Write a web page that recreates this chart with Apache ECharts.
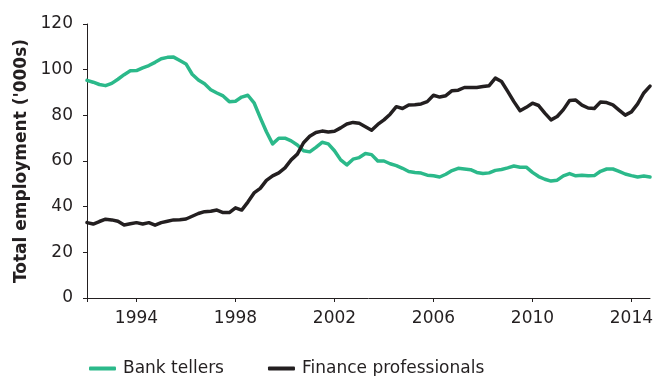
<!DOCTYPE html>
<html>
<head>
<meta charset="utf-8">
<script src="https://cdn.jsdelivr.net/npm/echarts@6/dist/echarts.min.js"></script>
<style>
  html, body { margin: 0; padding: 0; background: #ffffff; }
  #chart { width: 658px; height: 376px; }
</style>
</head>
<body>
<div id="chart"></div>
<script>
// Quarterly observations, 1992 Q1 to 2014 Q4 (thousands of workers)
const startYear = 1992;
const endYear = 2014;
const quarters = [];
for (let y = startYear; y <= endYear; y++) {
  for (let q = 1; q <= 4; q++) quarters.push(y + ' Q' + q);
}

const bankTellers = [
  95.3, 94.5, 93.5, 93.0, 94.0, 95.8, 97.8, 99.5,
  99.6, 100.8, 101.8, 103.2, 104.8, 105.4, 105.5, 104.0,
  102.5, 98.0, 95.5, 93.8, 91.2, 89.8, 88.5, 86.0,
  86.2, 88.0, 88.8, 85.5, 79.0, 72.8, 67.5, 70.0,
  70.0, 68.8, 67.0, 64.5, 64.0, 66.0, 68.2, 67.5,
  64.5, 60.5, 58.3, 60.8, 61.5, 63.3, 62.8, 60.0,
  60.0, 58.8, 58.0, 56.8, 55.4, 55.0, 54.7, 53.8,
  53.5, 53.0, 54.2, 55.8, 56.8, 56.5, 56.2, 55.0,
  54.5, 54.8, 55.9, 56.3, 57.0, 57.8, 57.3, 57.3,
  55.0, 53.2, 52.0, 51.2, 51.6, 53.5, 54.5, 53.5,
  53.8, 53.5, 53.6, 55.5, 56.5, 56.5, 55.5, 54.3,
  53.6, 53.0, 53.4, 53.0
];

const financeProfessionals = [
  33.0, 32.4, 33.5, 34.5, 34.2, 33.6, 32.0, 32.5,
  33.0, 32.4, 33.0, 31.9, 33.0, 33.6, 34.2, 34.3,
  34.6, 35.8, 37.0, 37.8, 38.0, 38.5, 37.4, 37.4,
  39.5, 38.5, 42.0, 46.0, 48.0, 51.5, 53.5, 54.8,
  57.0, 60.5, 63.0, 68.0, 70.8, 72.5, 73.1, 72.7,
  73.0, 74.5, 76.2, 76.9, 76.5, 75.0, 73.5, 76.0,
  78.0, 80.5, 83.8, 83.0, 84.5, 84.6, 85.0, 86.0,
  88.8, 88.0, 88.6, 90.8, 91.0, 92.2, 92.2, 92.2,
  92.6, 93.0, 96.3, 94.8, 90.5, 86.0, 82.0, 83.5,
  85.3, 84.3, 81.0, 78.0, 79.5, 82.5, 86.5, 86.7,
  84.5, 83.2, 83.0, 85.8, 85.6, 84.6, 82.3, 80.1,
  81.5, 85.0, 89.8, 92.8
];

// Years that carry a label on the horizontal axis
const labelledYears = [1994, 1998, 2002, 2006, 2010, 2014];
const yTicks = [0, 20, 40, 60, 80, 100, 120];

const seriesNames = ['Bank tellers', 'Finance professionals'];
const seriesColors = ['#2bb98a', '#231f20'];

const ink = '#231f20';
const font = 'DejaVu Sans';

function isLabelledQuarter(idx) {
  const label = quarters[idx];
  const year = parseInt(label.slice(0, 4), 10);
  return label.endsWith('Q1') && labelledYears.indexOf(year) !== -1;
}

const chart = echarts.init(document.getElementById('chart'), null, { renderer: 'canvas' });

chart.setOption({
  animation: false,
  backgroundColor: '#ffffff',
  grid: { left: 87, right: 8, top: 24, bottom: 78, containLabel: false },
  legend: {
    data: seriesNames.map((n, i) => ({ name: n, itemStyle: { color: seriesColors[i] } })),
    left: 84,
    top: 355,
    icon: 'roundRect',
    itemWidth: 27,
    itemHeight: 4,
    itemGap: 44,
    textStyle: { fontFamily: font, fontSize: 17, color: ink, padding: [0, 0, 0, 2] }
  },
  xAxis: {
    type: 'category',
    data: quarters,
    boundaryGap: false,
    axisLine: { lineStyle: { color: ink, width: 1 } },
    axisTick: {
      show: true,
      length: 4,
      interval: (idx) => idx === 0 || isLabelledQuarter(idx),
      lineStyle: { color: ink }
    },
    axisLabel: {
      interval: (idx) => isLabelledQuarter(idx),
      formatter: (v) => v.slice(0, 4),
      margin: 12,
      fontFamily: font,
      fontSize: 17,
      color: ink
    },
    splitLine: { show: false }
  },
  yAxis: {
    type: 'value',
    min: yTicks[0],
    max: yTicks[yTicks.length - 1],
    interval: 20,
    name: "Total employment ('000s)",
    nameLocation: 'middle',
    nameRotate: 90,
    nameGap: 57,
    nameTextStyle: { fontFamily: font, fontSize: 17, fontWeight: 'bold', color: ink },
    axisLine: { show: true, lineStyle: { color: ink, width: 1 } },
    axisTick: { show: true, length: 4, lineStyle: { color: ink } },
    axisLabel: { margin: 14, fontFamily: font, fontSize: 17, color: ink },
    splitLine: { show: false }
  },
  series: [
    {
      name: seriesNames[0],
      type: 'line',
      data: bankTellers,
      showSymbol: false,
      smooth: false,
      lineStyle: { color: seriesColors[0], width: 3.5, join: 'round', cap: 'round' },
      itemStyle: { color: seriesColors[0] }
    },
    {
      name: seriesNames[1],
      type: 'line',
      data: financeProfessionals,
      showSymbol: false,
      smooth: false,
      lineStyle: { color: seriesColors[1], width: 3.5, join: 'round', cap: 'round' },
      itemStyle: { color: seriesColors[1] }
    }
  ]
});
</script>
</body>
</html>
